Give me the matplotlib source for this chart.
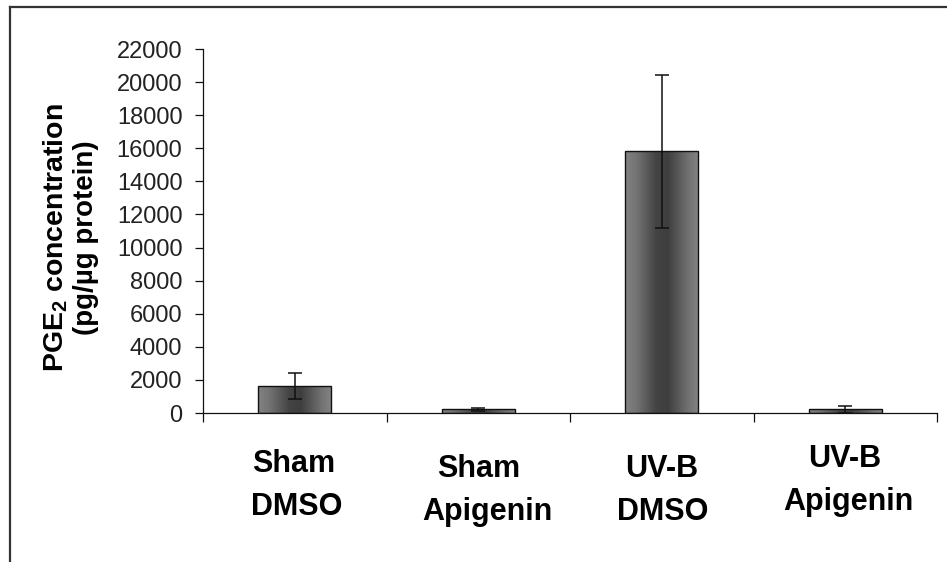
import numpy as np
import matplotlib
matplotlib.use("Agg")
import matplotlib.pyplot as plt
from matplotlib.colors import LinearSegmentedColormap
from matplotlib.lines import Line2D
from matplotlib import transforms as mtrans

# ---- data ----
categories = [["Sham", "DMSO"], ["Sham", "Apigenin"], ["UV-B", "DMSO"], ["UV-B", "Apigenin"]]
values = [1630, 220, 15830, 220]
errors = [760, 110, 4620, 200]
yticks = list(range(0, 22001, 2000))

plt.rcParams['font.family'] = ['Liberation Sans', 'DejaVu Sans']
plt.rcParams['mathtext.fontset'] = 'custom'
plt.rcParams['mathtext.rm'] = 'Liberation Sans'
plt.rcParams['mathtext.bf'] = 'Liberation Sans:bold'

W, H = 947, 562
fig = plt.figure(figsize=(W / 100, H / 100), dpi=100)
ax = fig.add_axes([203 / W, 1 - 413 / H, 734 / W, 364 / H])

x = np.arange(len(values))
bars = ax.bar(x, values, width=0.4, facecolor='none', edgecolor='#111111',
              linewidth=1.0, zorder=3)

cmap = LinearSegmentedColormap.from_list(
    'g', [(0.0, '#828282'), (0.15, '#747474'), (0.42, '#444444'),
          (0.58, '#3e3e3e'), (0.85, '#707070'), (1.0, '#858585')])
grad = np.linspace(0, 1, 256).reshape(1, -1)
for b in bars:
    x0, y0 = b.get_x(), b.get_y()
    im = ax.imshow(grad, cmap=cmap, aspect='auto', zorder=2,
                   extent=[x0, x0 + b.get_width(), y0, y0 + b.get_height()],
                   interpolation='bilinear')
    im.set_clip_path(b)

ax.errorbar(x, values, yerr=errors, fmt='none', ecolor='#111111',
            elinewidth=1.1, capsize=4.7, capthick=1.1, zorder=4)

ax.set_xlim(-0.5, 3.5)
ax.set_ylim(0, 22000)
ax.set_yticks(yticks)
ax.set_yticklabels([str(v) for v in yticks], fontsize=17, color='#222222')
ax.set_xticks(np.arange(-0.5, 3.51, 1.0))
ax.set_xticklabels([])
ax.tick_params(axis='y', direction='out', length=5.8, width=0.9, pad=9,
               color='#111111')
ax.tick_params(axis='x', direction='out', length=6.5, width=0.9,
               color='#111111')
for s in ['top', 'right']:
    ax.spines[s].set_visible(False)
for s in ['left', 'bottom']:
    ax.spines[s].set_linewidth(0.9)
    ax.spines[s].set_color('#111111')

# category labels (two lines each)
line_dx = [(-1, 2), (0, 9), (0, 1), (-1, 3)]
line_dy = [(59, 102), (64, 107), (64, 107), (54, 97)]
base = mtrans.blended_transform_factory(ax.transData, ax.transAxes)
for i, lines in enumerate(categories):
    for j, txt in enumerate(lines):
        tr = mtrans.offset_copy(base, fig=fig, x=line_dx[i][j],
                                y=-line_dy[i][j], units='dots')
        ax.text(i, 0, txt, transform=tr, ha='center', va='baseline',
                fontsize=22, fontweight='bold', color='black', clip_on=False)

# y label
ycen = 1 - 238 / H
fig.text(63 / W, ycen, r'PGE$_\mathbf{2}$ concentration', rotation=90,
         rotation_mode='anchor', ha='center', va='baseline',
         fontsize=20.5, fontweight='bold', color='black')
fig.text(93 / W, ycen, '(pg/µg protein)', rotation=90,
         rotation_mode='anchor', ha='center', va='baseline',
         fontsize=20, fontweight='bold', color='black')

# outer frame
fig.add_artist(Line2D([10 / W, 10 / W], [0, 1 - 7 / H], transform=fig.transFigure,
                      lw=1.6, color='#333333'))
fig.add_artist(Line2D([10 / W, 1], [1 - 7 / H, 1 - 7 / H], transform=fig.transFigure,
                      lw=1.6, color='#333333'))

fig.savefig('out.png', dpi=100)
